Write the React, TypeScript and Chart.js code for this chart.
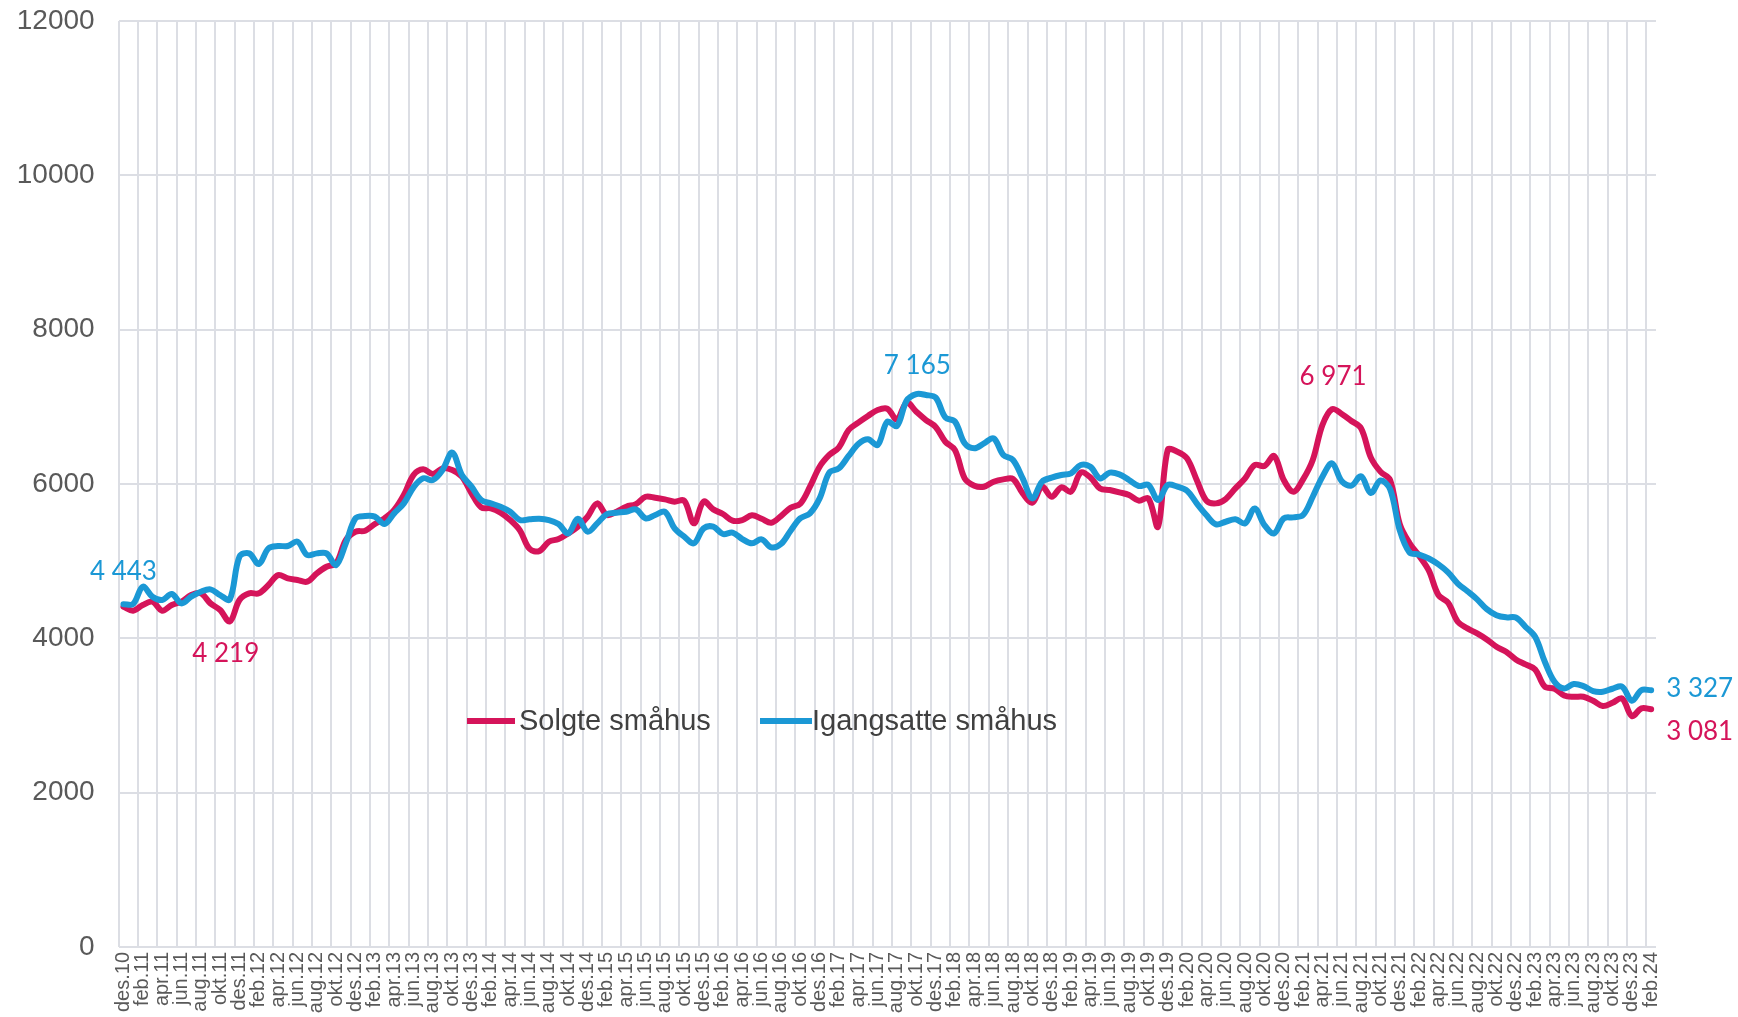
import React, { useEffect, useRef } from 'react';
import { Chart, registerables } from 'chart.js';

Chart.register(...registerables);

// ---- data ----
const MONTHS = ['jan', 'feb', 'mar', 'apr', 'mai', 'jun', 'jul', 'aug', 'sep', 'okt', 'nov', 'des'];

const SERIES_NAMES = ['Solgte småhus', 'Igangsatte småhus'];

// Solgte småhus (des.10 – feb.24, monthly)
const SOLGTE = [
  4410, 4358, 4432, 4475, 4358, 4432, 4475, 4561, 4583, 4453,
  4367, 4219, 4497, 4583, 4583, 4691, 4820, 4777, 4756, 4734,
  4842, 4928, 4972, 5274, 5382, 5395, 5482, 5555, 5663, 5857,
  6117, 6190, 6130, 6203, 6182, 6095, 5879, 5698, 5685, 5629,
  5533, 5400, 5160, 5130, 5252, 5287, 5360, 5447, 5576, 5749,
  5598, 5641, 5706, 5740, 5835, 5823, 5801, 5771, 5784, 5490,
  5771, 5671, 5611, 5524, 5533, 5594, 5550, 5498, 5585, 5693,
  5745, 5965, 6224, 6376, 6475, 6700, 6795, 6881, 6959, 6976,
  6838, 7054, 6937, 6829, 6740, 6548, 6440, 6073, 5978, 5965,
  6030, 6060, 6065, 5879, 5758, 5965, 5835, 5957, 5900, 6147,
  6086, 5943, 5922, 5892, 5857, 5784, 5814, 5447, 6440, 6419,
  6332, 6052, 5784, 5749, 5805, 5943, 6073, 6246, 6233, 6363,
  6052, 5900, 6060, 6311, 6765, 6971, 6907, 6816, 6721, 6345,
  6160, 6052, 5480, 5235, 5070, 4880, 4560, 4460, 4215, 4129,
  4064, 3986, 3891, 3826, 3727, 3662, 3597, 3373, 3347, 3260,
  3243, 3243, 3191, 3122, 3165, 3221, 2993, 3092, 3081,
];

// Igangsatte småhus (des.10 – feb.24, monthly)
const IGANGSATTE = [
  4443, 4445, 4669, 4540, 4497, 4574, 4453, 4540, 4604, 4635,
  4561, 4505, 5058, 5101, 4963, 5166, 5196, 5196, 5253, 5080,
  5101, 5101, 4950, 5231, 5555, 5585, 5577, 5482, 5620, 5749,
  5957, 6074, 6052, 6182, 6406, 6117, 5966, 5793, 5749, 5706,
  5641, 5533, 5542, 5550, 5533, 5481, 5360, 5550, 5382, 5490,
  5611, 5628, 5641, 5671, 5555, 5598, 5641, 5425, 5317, 5231,
  5425, 5447, 5352, 5369, 5287, 5231, 5283, 5179, 5222, 5395,
  5555, 5620, 5814, 6147, 6203, 6363, 6518, 6579, 6505, 6808,
  6752, 7080, 7165, 7153, 7120, 6864, 6808, 6527, 6462, 6527,
  6592, 6376, 6311, 6073, 5814, 6030, 6082, 6116, 6138, 6246,
  6224, 6073, 6147, 6125, 6052, 5974, 5987, 5792, 5987, 5965,
  5913, 5749, 5598, 5477, 5511, 5542, 5490, 5684, 5468, 5360,
  5555, 5568, 5598, 5835, 6095, 6268, 6035, 5980, 6100, 5883,
  6045, 5933, 5400, 5115, 5085, 5035, 4958, 4855, 4710, 4610,
  4505, 4378, 4300, 4272, 4270, 4150, 4020, 3697, 3438, 3351,
  3407, 3381, 3317, 3308, 3347, 3373, 3191, 3330, 3327,
];

// category labels: des.10 ... feb.24
const CATEGORIES: string[] = [];
for (let k = 0; k < SOLGTE.length; k++) {
  const m = (11 + k) % 12;
  const yr = 10 + Math.floor((11 + k) / 12);
  CATEGORIES.push(`${MONTHS[m]}.${String(yr).padStart(2, '0')}`);
}

const Y_MIN = 0;
const Y_MAX = 12000;
const Y_STEP = 2000;

// which points carry a value label
const LABELLED_POINTS = [
  { dataset: 1, index: 0 },
  { dataset: 0, index: 11 },
  { dataset: 1, index: 82 },
  { dataset: 0, index: 125 },
  { dataset: 1, index: 158 },
  { dataset: 0, index: 158 },
];

// ---- style ----
const RED = '#d5145a';
const BLUE = '#1b98d5';
const GRID = '#dcdee4';
const AXIS_TEXT = '#595959';
const LEGEND_TEXT = '#404040';
const COLORS = [RED, BLUE];
const LINE_WIDTH = 6;

const LABEL_OFFSETS = [
  { dx: 0, dy: -33, align: 'center' },
  { dx: -4, dy: 32, align: 'center' },
  { dx: 1, dy: -28, align: 'center' },
  { dx: 1, dy: -32, align: 'center' },
  { dx: 15, dy: -2, align: 'left' },
  { dx: 15, dy: 22, align: 'left' },
];

const LEGEND_LAYOUT = [
  { x0: 467, x1: 515, tx: 519 },
  { x0: 760, x1: 812, tx: 812 },
];
const LEGEND_Y = 721;

const fmt = (v: number) => String(Math.round(v)).replace(/\B(?=(\d{3})+(?!\d))/g, ' ');

// vertical grid lines at the boundary before every second category
const monthGridPlugin = {
  id: 'monthGrid',
  beforeDatasetsDraw(chart: any) {
    const ctx = chart.ctx as CanvasRenderingContext2D;
    const x = chart.scales.x;
    const area = chart.chartArea;
    const half = (x.getPixelForValue(1) - x.getPixelForValue(0)) / 2;
    ctx.save();
    ctx.strokeStyle = GRID;
    ctx.lineWidth = 2;
    for (let k = 0; k < CATEGORIES.length; k += 2) {
      const px = Math.round(x.getPixelForValue(k) - half);
      ctx.beginPath();
      ctx.moveTo(px, area.top);
      ctx.lineTo(px, area.bottom);
      ctx.stroke();
    }
    ctx.restore();
  },
};

const overlayPlugin = {
  id: 'overlay',
  afterDatasetsDraw(chart: any) {
    const ctx = chart.ctx as CanvasRenderingContext2D;
    ctx.save();
    // value labels
    ctx.font = '26px Lato';
    ctx.textBaseline = 'middle';
    LABELLED_POINTS.forEach((p, k) => {
      const meta = chart.getDatasetMeta(p.dataset);
      const el = meta.data[p.index];
      const off = LABEL_OFFSETS[k];
      const value = chart.data.datasets[p.dataset].data[p.index] as number;
      ctx.fillStyle = COLORS[p.dataset];
      ctx.textAlign = off.align as CanvasTextAlign;
      ctx.fillText(fmt(value), el.x + off.dx, el.y + off.dy);
    });
    // legend inside plot
    ctx.font = '29px "Liberation Sans"';
    ctx.textAlign = 'left';
    LEGEND_LAYOUT.forEach((l, k) => {
      ctx.strokeStyle = COLORS[k];
      ctx.lineWidth = LINE_WIDTH;
      ctx.lineCap = 'butt';
      ctx.beginPath();
      ctx.moveTo(l.x0, LEGEND_Y);
      ctx.lineTo(l.x1, LEGEND_Y);
      ctx.stroke();
      ctx.fillStyle = LEGEND_TEXT;
      ctx.fillText(SERIES_NAMES[k], l.tx, LEGEND_Y + 1);
    });
    ctx.restore();
  },
};

export default function App() {
  const ref = useRef<HTMLCanvasElement>(null);

  useEffect(() => {
    document.body.style.margin = '0';
    document.body.style.overflow = 'hidden';
    const chart = new Chart(ref.current as HTMLCanvasElement, {
      type: 'line',
      data: {
        labels: CATEGORIES,
        datasets: [
          {
            label: SERIES_NAMES[0],
            data: SOLGTE,
            borderColor: RED,
            backgroundColor: RED,
            borderWidth: LINE_WIDTH,
            pointRadius: 0,
            tension: 0.35,
            borderJoinStyle: 'round',
            borderCapStyle: 'round',
            fill: false,
            order: 1,
          },
          {
            label: SERIES_NAMES[1],
            data: IGANGSATTE,
            borderColor: BLUE,
            backgroundColor: BLUE,
            borderWidth: LINE_WIDTH,
            pointRadius: 0,
            tension: 0.35,
            borderJoinStyle: 'round',
            borderCapStyle: 'round',
            fill: false,
            order: 0,
          },
        ],
      },
      options: {
        animation: false,
        responsive: true,
        maintainAspectRatio: false,
        layout: { padding: { top: 21, right: 82, left: 0, bottom: 0 } },
        plugins: {
          legend: { display: false },
          tooltip: { enabled: false },
        },
        scales: {
          x: {
            type: 'category',
            offset: true,
            border: { display: false },
            grid: { display: false, drawTicks: false },
            ticks: {
              autoSkip: false,
              minRotation: 90,
              maxRotation: 90,
              padding: 5,
              color: AXIS_TEXT,
              font: { family: 'Liberation Sans', size: 20 },
              callback: (_v: any, i: number) => (i % 2 === 0 ? CATEGORIES[i] : ''),
            },
            afterFit: (s: any) => {
              s.height = 70;
              s.paddingLeft = 0;
              s.paddingRight = 0;
            },
          },
          y: {
            min: Y_MIN,
            max: Y_MAX,
            border: { display: false },
            grid: { drawTicks: false, lineWidth: 2, color: GRID },
            ticks: {
              stepSize: Y_STEP,
              padding: 24,
              color: AXIS_TEXT,
              font: { family: 'Liberation Sans', size: 28 },
              callback: (v: any) => String(v),
            },
            afterFit: (s: any) => {
              s.width = 118.6;
              s.paddingTop = 0;
              s.paddingBottom = 0;
            },
          },
        },
      },
      plugins: [monthGridPlugin, overlayPlugin],
    } as any);
    return () => chart.destroy();
  }, []);

  return (
    <div style={{ width: 1738, height: 1017, position: 'relative', background: '#ffffff' }}>
      <canvas ref={ref} />
    </div>
  );
}
